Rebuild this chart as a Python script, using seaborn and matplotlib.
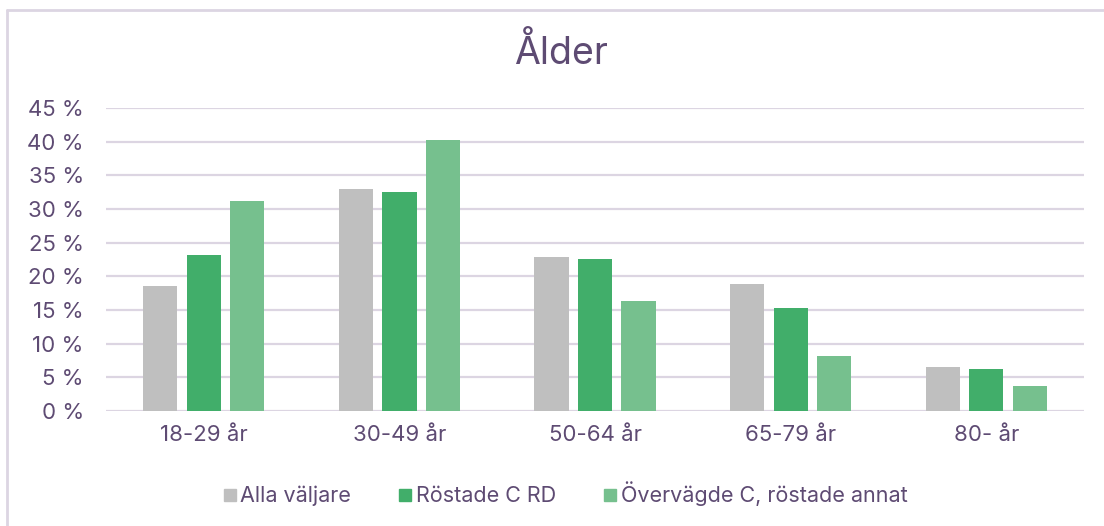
import pandas as pd
import matplotlib.pyplot as plt
import seaborn as sns
from matplotlib.lines import Line2D

categories = ['18-29 år', '30-49 år', '50-64 år', '65-79 år', '80- år']
series_names = ['Alla väljare', 'Röstade C RD', 'Övervägde C, röstade annat']
alla = [18.6, 33.0, 22.9, 18.8, 6.6]
rostade = [23.2, 32.5, 22.6, 15.3, 6.2]
overvagde = [31.2, 40.2, 16.4, 8.2, 3.7]
yticks = [0, 5, 10, 15, 20, 25, 30, 35, 40, 45]

colors = ['#bfbfbf', '#41ae6a', '#76c08e']
text_color = '#5e4b73'
grid_color = '#dcd5e2'

df = pd.DataFrame({
    'Ålder': categories * 3,
    'Serie': [s for s in series_names for _ in categories],
    'Andel': alla + rostade + overvagde,
})

sns.set_style('white')
plt.rcParams['font.family'] = ['Inter', 'DejaVu Sans']

fig = plt.figure(figsize=(11.04, 5.26), dpi=100)
ax = fig.add_axes([0.096, 0.2186, 0.886, 0.576])

sns.barplot(data=df, x='Ålder', y='Andel', hue='Serie', hue_order=series_names,
            palette=colors, width=0.667, gap=0.21, linewidth=0, saturation=1,
            legend=False, ax=ax)

ax.set_ylim(0, 45)
ax.set_yticks(yticks)
ax.set_yticklabels([f'{t} %' for t in yticks])
ax.set_xlim(-0.5, len(categories) - 0.5)
ax.yaxis.grid(True, color=grid_color, linewidth=1.6)
ax.set_axisbelow(True)
for s in ax.spines.values():
    s.set_visible(False)
ax.set_xlabel('')
ax.set_ylabel('')
ax.tick_params(axis='both', length=0, labelsize=16, labelcolor=text_color)
ax.tick_params(axis='y', pad=16)
ax.tick_params(axis='x', pad=10)

fig.text(0.508, 0.9, 'Ålder', ha='center', va='center', fontsize=27, color=text_color)

handles = [Line2D([], [], marker='s', linestyle='', markersize=9, color=c) for c in colors]
fig.legend(handles, series_names, loc='center', bbox_to_anchor=(0.51, 0.061), ncol=3,
           frameon=False, fontsize=15.5, labelcolor=text_color, handletextpad=0.0,
           columnspacing=2.0, handlelength=1.0)

# chart frame (left and top edges visible)
fig.add_artist(Line2D([7 / 1104, 7 / 1104], [0, 1 - 10 / 526], color=grid_color, linewidth=2))
fig.add_artist(Line2D([7 / 1104, 1], [1 - 10 / 526, 1 - 10 / 526], color=grid_color, linewidth=2))

fig.savefig('out.png', dpi=100)
